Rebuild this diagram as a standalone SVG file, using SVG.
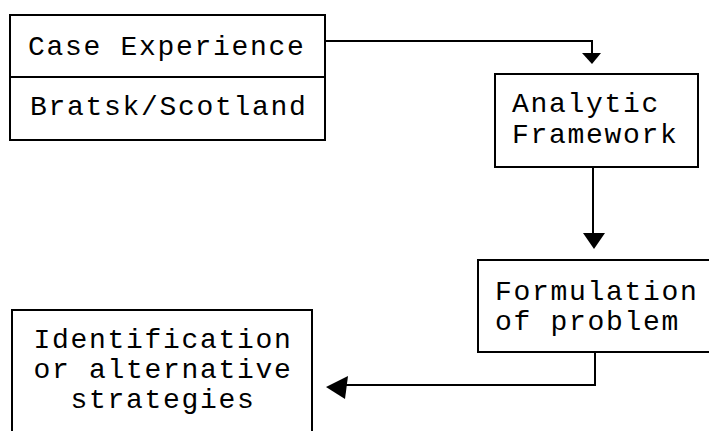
<svg xmlns="http://www.w3.org/2000/svg" width="709" height="431" viewBox="0 0 709 431">
<style>
.box{fill:#fff;stroke:#000;stroke-width:2}
.t{font-family:"Liberation Mono","Courier New",monospace;font-size:28px;letter-spacing:1.7px;fill:#000}
.c{fill:none;stroke:#000;stroke-width:2}
.h{fill:#000;stroke:none}
</style>
<rect width="709" height="431" fill="#fff"/>
<g id="connectors">
<path class="c" d="M325,41 H592 V54"/>
<polygon class="h" points="582,53 601,53 592,64"/>
<path class="c" d="M593,167 V236"/>
<polygon class="h" points="583,233 605,233 594,249"/>
<path class="c" d="M595,352 V385 H345"/>
<polygon class="h" points="326,387 348,376 345,399"/>
</g>
<g id="case">
<rect class="box" x="10" y="15" width="315" height="125"/>
<line x1="10" y1="77" x2="325" y2="77" stroke="#000" stroke-width="2"/>
<text class="t" x="28" y="55">Case Experience</text>
<text class="t" x="30" y="115">Bratsk/Scotland</text>
</g>
<g id="analytic">
<rect class="box" x="495" y="74" width="203" height="93"/>
<text class="t" x="512" y="112">Analytic</text>
<text class="t" x="512" y="143">Framework</text>
</g>
<g id="formulation">
<rect class="box" x="478" y="260" width="240" height="92"/>
<text class="t" x="495" y="300">Formulation</text>
<text class="t" x="495" y="330">of problem</text>
</g>
<g id="identification">
<rect class="box" x="12" y="310" width="300" height="140"/>
<text class="t" x="163" y="348" text-anchor="middle">Identification</text>
<text class="t" x="163" y="378" text-anchor="middle">or alternative</text>
<text class="t" x="163" y="408" text-anchor="middle">strategies</text>
</g>
</svg>
